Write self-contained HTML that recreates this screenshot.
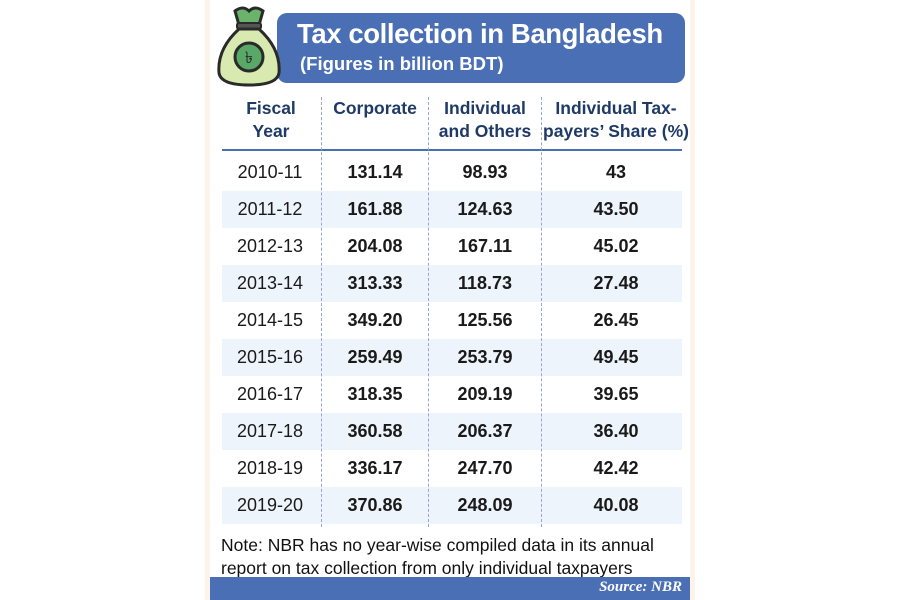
<!DOCTYPE html>
<html><head><meta charset="utf-8"><style>
body{margin:0;width:900px;height:600px;background:#fff;position:relative;overflow:hidden;font-family:"Liberation Sans",sans-serif;color:#1a1a1a}
.a{position:absolute}
.panel{left:205px;top:0;width:490px;height:600px;background:#fcf3ea}
.inner{left:210px;top:0;width:480px;height:600px;background:#fff}
.ban{left:277px;top:13px;width:408px;height:70px;background:#4a6fb5;border-radius:10px}
.t1{left:297px;top:18px;color:#fff;font-weight:bold;font-size:27.5px;letter-spacing:-0.4px}
.t2{left:300px;top:53px;color:#fff;font-weight:bold;font-size:18.5px}
.h{font-weight:bold;font-size:17.5px;color:#1f3a66;text-align:center;line-height:23px}
.row{left:222px;width:460px;height:37px}
.alt{background:#eef4fb}
.c{position:absolute;top:0;line-height:37px;font-size:18px;text-align:center;width:120px}
.b{font-weight:bold}
.div{top:97px;width:0;height:430px;border-left:1.5px dashed #9aa6c4}
.note{left:221px;top:534px;font-size:17.5px;line-height:23px;color:#111}
.src{left:210px;top:577px;width:480px;height:23px;background:#4a6fb5}
.src span{position:absolute;right:8px;top:2px;color:#fff;font-family:"Liberation Serif",serif;font-style:italic;font-weight:bold;font-size:15px}
</style></head><body>
<div class="a panel"></div><div class="a inner"></div>
<div class="a ban"></div>
<svg class="a" style="left:213px;top:3px" width="72" height="84" viewBox="0 0 72 84">
<path d="M22 8 Q30 2 36 8 Q42 2 50 8 L46 22 L26 22 Z" fill="#6ab36a" stroke="#2a2a2a" stroke-width="3"/>
<rect x="24" y="20" width="24" height="6" rx="2" fill="#555" stroke="#2a2a2a" stroke-width="2"/>
<path d="M26 26 Q4 46 6 70 Q8 82 36 82 Q64 82 66 70 Q68 46 46 26 Z" fill="#d8eab0" stroke="#2a2a2a" stroke-width="3"/>
<circle cx="36" cy="54" r="14" fill="#5aa867" stroke="#2a2a2a" stroke-width="3"/>
<text x="36" y="60" text-anchor="middle" font-size="16" fill="#222" font-family="DejaVu Sans">৳</text>
</svg>
<div class="a t1">Tax collection in Bangladesh</div>
<div class="a t2">(Figures in billion BDT)</div>
<div class="a h" style="left:222px;top:97px;width:98px">Fiscal<br>Year</div>
<div class="a h" style="left:322px;top:97px;width:106px">Corporate</div>
<div class="a h" style="left:428px;top:97px;width:114px">Individual<br>and Others</div>
<div class="a h" style="left:542px;top:97px;width:148px">Individual Tax-<br>payers’ Share (%)</div>
<div class="a" style="left:222px;top:149px;width:460px;height:2px;background:#4a6fb5"></div>
<div class="a row" style="top:154px"><div class="c" style="left:-12px">2010-11</div><div class="c b" style="left:93px">131.14</div><div class="c b" style="left:203px">98.93</div><div class="c b" style="left:334px">43</div></div>
<div class="a row alt" style="top:191px"><div class="c" style="left:-12px">2011-12</div><div class="c b" style="left:93px">161.88</div><div class="c b" style="left:203px">124.63</div><div class="c b" style="left:334px">43.50</div></div>
<div class="a row" style="top:228px"><div class="c" style="left:-12px">2012-13</div><div class="c b" style="left:93px">204.08</div><div class="c b" style="left:203px">167.11</div><div class="c b" style="left:334px">45.02</div></div>
<div class="a row alt" style="top:265px"><div class="c" style="left:-12px">2013-14</div><div class="c b" style="left:93px">313.33</div><div class="c b" style="left:203px">118.73</div><div class="c b" style="left:334px">27.48</div></div>
<div class="a row" style="top:302px"><div class="c" style="left:-12px">2014-15</div><div class="c b" style="left:93px">349.20</div><div class="c b" style="left:203px">125.56</div><div class="c b" style="left:334px">26.45</div></div>
<div class="a row alt" style="top:339px"><div class="c" style="left:-12px">2015-16</div><div class="c b" style="left:93px">259.49</div><div class="c b" style="left:203px">253.79</div><div class="c b" style="left:334px">49.45</div></div>
<div class="a row" style="top:376px"><div class="c" style="left:-12px">2016-17</div><div class="c b" style="left:93px">318.35</div><div class="c b" style="left:203px">209.19</div><div class="c b" style="left:334px">39.65</div></div>
<div class="a row alt" style="top:413px"><div class="c" style="left:-12px">2017-18</div><div class="c b" style="left:93px">360.58</div><div class="c b" style="left:203px">206.37</div><div class="c b" style="left:334px">36.40</div></div>
<div class="a row" style="top:450px"><div class="c" style="left:-12px">2018-19</div><div class="c b" style="left:93px">336.17</div><div class="c b" style="left:203px">247.70</div><div class="c b" style="left:334px">42.42</div></div>
<div class="a row alt" style="top:487px"><div class="c" style="left:-12px">2019-20</div><div class="c b" style="left:93px">370.86</div><div class="c b" style="left:203px">248.09</div><div class="c b" style="left:334px">40.08</div></div>
<div class="a div" style="left:321px"></div>
<div class="a div" style="left:428px"></div>
<div class="a div" style="left:541px"></div>
<div class="a note">Note: NBR has no year-wise compiled data in its annual<br>report on tax collection from only individual taxpayers</div>
<div class="a src"><span>Source: NBR</span></div>
</body></html>
